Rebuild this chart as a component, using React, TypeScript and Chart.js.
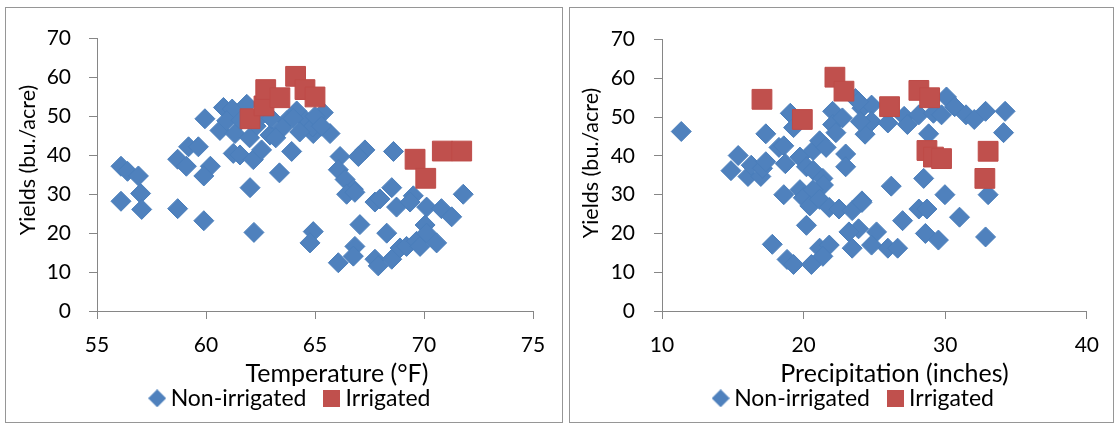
import React, { useEffect, useRef } from 'react';
import { Chart, registerables } from 'chart.js';

Chart.register(...registerables);

const FONT = 'Lato';
const BLUE = '#4F81BD';
const BLUE_EDGE = '#4A7EBB';
const RED = '#C0504D';
const RED_EDGE = '#BE4B48';
const AXIS = '#868686';

const seriesNames = ['Non-irrigated', 'Irrigated'];
const yieldTicks = [0, 10, 20, 30, 40, 50, 60, 70];
const tempTicks = [55, 60, 65, 70, 75];
const precipTicks = [10, 20, 30, 40];

// [temperature °F, yield bu./acre]
const tempNonIrrigated: [number, number][] = [
  [56.1, 37.2], [56.4, 35.9], [56.9, 34.7], [57.0, 30.2], [57.05, 26.1], [56.1, 28.2],
  [58.7, 26.3], [59.9, 23.2], [58.7, 39], [59.2, 42.2], [59.65, 42.2], [59.1, 37.2],
  [60.2, 37.2], [59.9, 34.7], [59.95, 49.4], [60.8, 52.3], [61.2, 51.9], [60.64, 46.4],
  [60.95, 48.9], [61.25, 40.5], [61.56, 40.1], [62.17, 38.9], [62.55, 41.4], [61.33, 45.6],
  [61.87, 53.1], [62.94, 45.2], [63.93, 41], [63.37, 35.5], [62.02, 31.7], [62.2, 20.2],
  [64.16, 51.4], [63.7, 48.9], [64.6, 48.9], [64.92, 45.6], [65.38, 51], [65.69, 45.6],
  [64.9, 47.3], [66.15, 39.7], [67.29, 41.4], [66.99, 39.7], [68.6, 41], [66.07, 36.3],
  [66.38, 33.8], [66.76, 31.3], [68.52, 31.7], [66.45, 30], [66.83, 30.5], [69.51, 29.6],
  [67.75, 28], [67.98, 28.8], [68.74, 26.7], [69.36, 28], [70.12, 26.7], [70.8, 26.3],
  [71.27, 24.2], [71.8, 30], [64.92, 20.4], [64.77, 17.5], [67.06, 22.2], [68.29, 20],
  [66.83, 16.6], [66.76, 14.1], [66.07, 12.4], [67.75, 13.3], [67.9, 11.6], [68.52, 13.3],
  [68.9, 16.2], [69.2, 16.6], [69.66, 17.9], [69.82, 16.6], [70.05, 22.1], [70.12, 20],
  [70.58, 17.5], [62.3, 47.5], [62.6, 50.5], [63.0, 49.5], [63.5, 47], [64.3, 46],
  [65.0, 50], [62.0, 44.5], [63.2, 44.5], [61.6, 49], [64.0, 49.5], [65.3, 47.5],
];

const tempIrrigated: [number, number][] = [
  [62.02, 49.4], [62.66, 52.7], [62.74, 56.9], [63.39, 54.8], [64.11, 60.3], [64.54, 56.9],
  [65.0, 55.0], [69.59, 39], [70.08, 34.1], [70.84, 41.1], [71.73, 41.1],
];

// [precipitation inches, yield bu./acre]
const precipNonIrrigated: [number, number][] = [
  [11.36, 46.3], [14.87, 36.2], [15.38, 40.1], [16.07, 34.7], [16.3, 37.6], [16.98, 34.7],
  [17.1, 36.8], [17.33, 38.5], [17.33, 45.7], [18.26, 42.2], [18.6, 42.6], [18.71, 38],
  [19.06, 51], [19.29, 47.3], [19.74, 39.7], [20.2, 37.2], [20.67, 41.4], [21.13, 43.9],
  [21.59, 42.2], [20.67, 36.3], [21.36, 34.2], [21.4, 32.5], [22.05, 51.5], [22.05, 48.1],
  [22.74, 49.8], [22.28, 46], [22.97, 40.5], [22.97, 37.2], [23.66, 54.8], [24.12, 52.3],
  [24.8, 53.1], [24.34, 45.6], [24.8, 48.9], [23.88, 54], [24.0, 48.9], [25.95, 48.5],
  [27.1, 50.2], [27.33, 48.1], [28.14, 50.6], [29.17, 51], [29.74, 50.6], [30.09, 55.2],
  [30.67, 52.7], [31.47, 50.6], [32.05, 49.4], [32.85, 51.5], [34.23, 51.5], [34.12, 46],
  [28.83, 45.7], [28.48, 34.2], [26.19, 32.2], [29.98, 30], [33.03, 30], [24.12, 28.4],
  [28.14, 26.3], [28.71, 26.3], [31.01, 24.2], [26.99, 23.3], [23.88, 21.2], [25.15, 20.4],
  [28.6, 20], [29.52, 18.3], [24.8, 17], [25.95, 16.2], [26.64, 16.2], [32.85, 19.1],
  [18.6, 30], [19.74, 31.3], [19.98, 29.2], [20.67, 31.3], [20.44, 27.1], [21.13, 28.8],
  [21.81, 26.7], [22.5, 26.3], [23.43, 25.9], [24.12, 28], [20.2, 22.1], [17.79, 17.2],
  [18.83, 13.3], [19.29, 12], [20.55, 12], [21.13, 16.2], [21.81, 17], [21.36, 14.1],
  [23.2, 20.4], [23.43, 16.2],
];

const precipIrrigated: [number, number][] = [
  [17.06, 54.6], [19.91, 49.4], [22.21, 60.3], [22.85, 56.7], [26.07, 52.7], [28.14, 56.9],
  [28.9, 55], [28.71, 41.4], [29.17, 39.7], [29.74, 39.3], [33.03, 41.2], [32.8, 34.2],
];

function makeMarker(kind: 'diamond' | 'square', color: string, size: number) {
  const c = document.createElement('canvas');
  c.width = size;
  c.height = size;
  const g = c.getContext('2d')!;
  g.fillStyle = color;
  if (kind === 'diamond') {
    g.beginPath();
    g.moveTo(size / 2, 0);
    g.lineTo(size, size / 2);
    g.lineTo(size / 2, size);
    g.lineTo(0, size / 2);
    g.closePath();
    g.fill();
  } else {
    g.fillRect(0, 0, size, size);
  }
  return c;
}

const axisTitlePlugin = {
  id: 'axisTitles',
  afterDraw(chart: any, _args: any, opts: any) {
    const ctx = chart.ctx;
    ctx.save();
    ctx.fillStyle = '#000';
    ctx.textAlign = 'center';
    ctx.textBaseline = 'alphabetic';
    ctx.font = `${opts.xSize}px ${FONT}`;
    ctx.fillText(opts.xText, opts.xCenter, opts.xBaseline);
    ctx.font = `${opts.ySize}px ${FONT}`;
    ctx.translate(opts.yBaseline, opts.yCenter);
    ctx.rotate(-Math.PI / 2);
    ctx.fillText(opts.yText, 0, 0);
    ctx.restore();
  },
};

// moves the (full-width) legend so that its row is centred on a given x
const legendShiftPlugin = {
  id: 'legendShift',
  afterLayout(chart: any, _args: any, opts: any) {
    const lg = chart.legend;
    if (!lg) return;
    const w = lg.right - lg.left;
    lg.left = opts.center - w / 2;
    lg.right = opts.center + w / 2;
  },
};

type PanelProps = {
  left: number;
  width: number;
  nonIrr: [number, number][];
  irr: [number, number][];
  xTicks: number[];
  xTitle: string;
  xTitleCenter: number;
  yTitleBaseline: number;
  yTitleCenter: number;
  yAxisWidth: number;
  padRight: number;
  yLabelPad: number;
  legendCenter: number;
};

function Panel(p: PanelProps) {
  const ref = useRef<HTMLCanvasElement>(null);
  useEffect(() => {
    const canvas = ref.current!;
    const markers = [makeMarker('diamond', BLUE, 18), makeMarker('square', RED, 17)];
    const tickFont = { family: FONT, size: 21 };
    const chart = new Chart(canvas, {
      type: 'scatter',
      data: {
        datasets: [
          {
            label: seriesNames[0],
            data: p.nonIrr.map(([x, y]) => ({ x, y })),
            pointStyle: 'rectRot',
            pointRadius: 10,
            pointHoverRadius: 10,
            backgroundColor: BLUE,
            borderColor: BLUE_EDGE,
            borderWidth: 1,
            order: 2,
          },
          {
            label: seriesNames[1],
            data: p.irr.map(([x, y]) => ({ x, y })),
            pointStyle: 'rect',
            pointRadius: 14,
            pointHoverRadius: 14,
            backgroundColor: RED,
            borderColor: RED_EDGE,
            borderWidth: 1,
            order: 1,
          },
        ],
      },
      options: {
        responsive: false,
        animation: false,
        events: [],
        layout: { padding: { left: 0, right: p.padRight, top: 25, bottom: 2.2 } },
        scales: {
          x: {
            type: 'linear',
            min: p.xTicks[0],
            max: p.xTicks[p.xTicks.length - 1],
            afterBuildTicks: (s: any) => {
              s.ticks = p.xTicks.map((v) => ({ value: v }));
            },
            afterFit: (s: any) => {
              s.height = 52.3;
            },
            ticks: { font: tickFont, color: '#000', padding: 14, maxRotation: 0 },
            grid: { drawOnChartArea: false, drawTicks: true, tickLength: 8, color: AXIS },
            border: { display: true, color: AXIS, width: 1 },
          },
          y: {
            type: 'linear',
            min: yieldTicks[0],
            max: yieldTicks[yieldTicks.length - 1],
            afterBuildTicks: (s: any) => {
              s.ticks = yieldTicks.map((v) => ({ value: v }));
            },
            afterFit: (s: any) => {
              s.width = p.yAxisWidth;
            },
            ticks: { font: tickFont, color: '#000', padding: p.yLabelPad },
            grid: { drawOnChartArea: false, drawTicks: true, tickLength: 8, color: AXIS },
            border: { display: true, color: AXIS, width: 1 },
          },
        },
        plugins: {
          tooltip: { enabled: false },
          legend: {
            position: 'bottom',
            labels: {
              usePointStyle: true,
              boxWidth: 4,
              boxHeight: 4,
              padding: 23.5,
              color: '#000',
              font: { family: FONT, size: 23 },
              generateLabels: (chart: any) => {
                const items = (Chart.defaults.plugins.legend.labels as any).generateLabels(chart);
                items.sort((a: any, b: any) => a.datasetIndex - b.datasetIndex);
                items.forEach((it: any) => {
                  it.pointStyle = markers[it.datasetIndex];
                  it.rotation = 0;
                });
                return items;
              },
            },
          },
          legendShift: { center: p.legendCenter },
          axisTitles: {
            xSize: 25,
            ySize: 21.5,
            xText: p.xTitle,
            xCenter: p.xTitleCenter,
            xBaseline: 374,
            yText: 'Yields (bu./acre)',
            yBaseline: p.yTitleBaseline,
            yCenter: p.yTitleCenter,
          },
        } as any,
      },
      plugins: [legendShiftPlugin, axisTitlePlugin],
    });
    return () => chart.destroy();
  }, []);

  return (
    <div
      style={{
        position: 'absolute',
        left: p.left,
        top: 7,
        width: p.width,
        height: 416,
        border: '1px solid #969696',
        boxSizing: 'border-box',
        background: '#fff',
      }}
    >
      <canvas ref={ref} width={p.width - 2} height={414} style={{ display: 'block' }} />
    </div>
  );
}

export default function App() {
  return (
    <div>
      <Panel
        left={5}
        width={558}
        nonIrr={tempNonIrrigated}
        irr={tempIrrigated}
        xTicks={tempTicks}
        xTitle="Temperature (°F)"
        xTitleCenter={331}
        yTitleBaseline={29}
        yTitleCenter={152}
        yAxisWidth={91}
        padRight={29}
        yLabelPad={18}
        legendCenter={286.8}
      />
      <Panel
        left={569}
        width={545}
        nonIrr={precipNonIrrigated}
        irr={precipIrrigated}
        xTicks={precipTicks}
        xTitle="Precipitation (inches)"
        xTitleCenter={324.5}
        yTitleBaseline={28}
        yTitleCenter={155}
        yAxisWidth={92}
        padRight={16}
        yLabelPad={19}
        legendCenter={286.3}
      />
    </div>
  );
}
